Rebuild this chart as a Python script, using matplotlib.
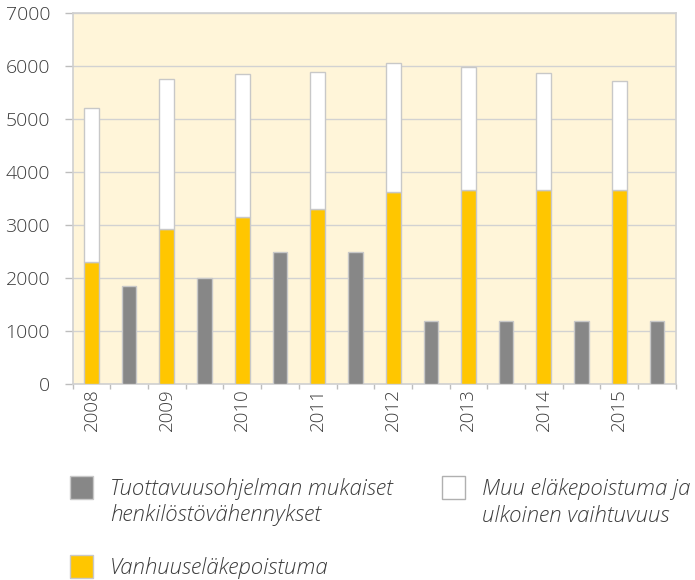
import numpy as np
import matplotlib
matplotlib.use('Agg')
import matplotlib.pyplot as plt
from matplotlib.patches import Rectangle

# data
years = ['2008', '2009', '2010', '2011', '2012', '2013', '2014', '2015']
vanhuus = [2300, 2920, 3160, 3310, 3620, 3670, 3670, 3670]
muu = [2910, 2830, 2690, 2580, 2440, 2310, 2200, 2060]
tuottavuus = [1850, 2000, 2490, 2490, 1190, 1190, 1190, 1190]

labels = ['Tuottavuusohjelman mukaiset\nhenkilöstövähennykset',
          'Vanhuuseläkepoistuma',
          'Muu eläkepoistuma ja\nulkoinen vaihtuvuus']

c_yel = '#FFC600'
c_gray = '#878787'
c_edge = '#C8C8C8'
txt = '#3C3C3C'

plt.rcParams['font.family'] = ['Open Sans', 'DejaVu Sans']

W, H = 695, 580
fig = plt.figure(figsize=(W/100, H/100), dpi=100)
ax = fig.add_axes([72.7/W, 1-384/H, (675.7-72.7)/W, (384-13.3)/H])
ax.set_facecolor('#FFF5D9')

n = len(years)
pos = np.arange(n) * 2
ax.bar(pos + 0.5, vanhuus, width=0.4, color=c_yel, edgecolor=c_edge, lw=1, zorder=3)
ax.bar(pos + 0.5, muu, width=0.4, bottom=vanhuus, color='white', edgecolor=c_edge, lw=1, zorder=3)
ax.bar(pos + 1.5, tuottavuus, width=0.38, color=c_gray, edgecolor=c_edge, lw=1, zorder=3)

ax.set_xlim(0, 2 * n)
ax.set_ylim(0, 7000)
ax.set_yticks(range(0, 7001, 1000))
ax.yaxis.grid(True, color='#D2D2D2', lw=1, zorder=0)

# boundary ticks without labels, year labels at the stacked bars
ax.set_xticks(np.arange(0, 2 * n + 1))
ax.set_xticklabels([])
ax.set_xticks(pos + 0.5, minor=True)
ax.set_xticklabels(years, minor=True, rotation=90, fontsize=13.5, color=txt, fontweight='light')
ax.tick_params(axis='x', which='major', length=3.6, color='#BDBDBD', width=1)
ax.tick_params(axis='x', which='minor', length=0, pad=3)
ax.tick_params(axis='y', length=5.5, color='#BDBDBD', width=1, pad=10.8, labelsize=14, labelcolor=txt)
for t in ax.get_yticklabels():
    t.set_fontweight('light')

for s in ax.spines.values():
    s.set_color('#D0D0D0')
    s.set_linewidth(1.2)

# legend drawn by hand: square aligned with the first text line
def legend_item(x, y, color, edge, text):
    # x, y: top-left of the square in pixels from the top-left corner
    fig.patches.append(Rectangle((x/W, 1-(y+23)/H), 23/W, 23/H, transform=fig.transFigure,
                                 facecolor=color, edgecolor=edge, lw=1))
    for i, line in enumerate(text.split('\n')):
        fig.text((x+40)/W, 1-(y+19+26.5*i)/H, line, fontsize=16, style='italic',
                 fontweight='light', color=txt, va='baseline', ha='left')

legend_item(70, 476, c_gray, c_edge, labels[0])
legend_item(70, 555, c_yel, c_edge, labels[1])
legend_item(442, 476, 'white', '#B0B0B0', labels[2])

fig.savefig('out.png', dpi=100)
